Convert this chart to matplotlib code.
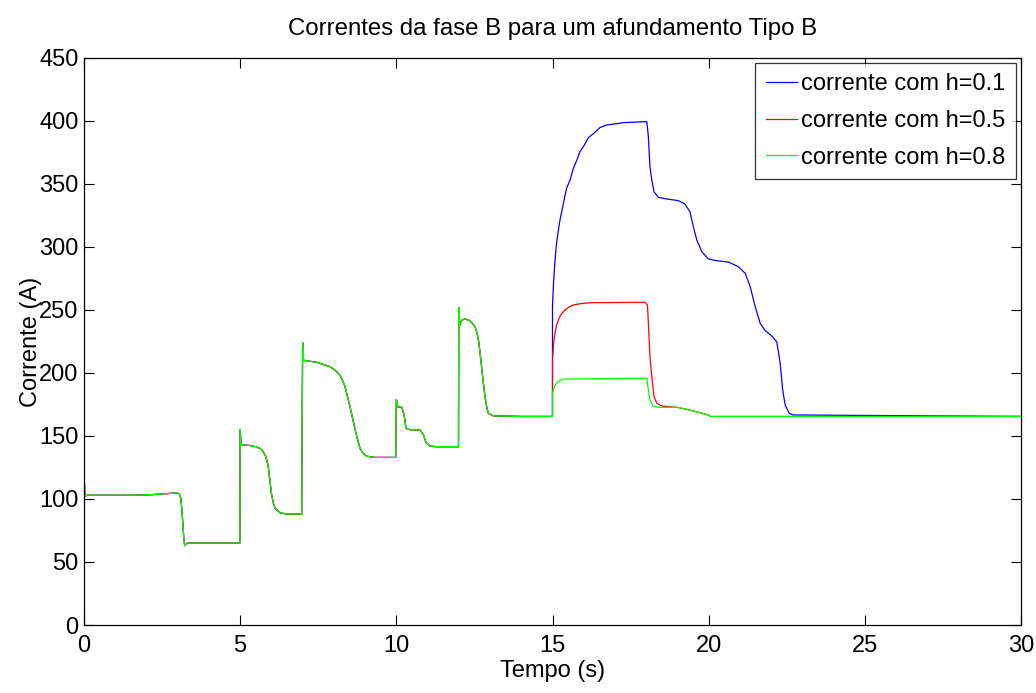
import numpy as np
import matplotlib
matplotlib.use("Agg")
import matplotlib.pyplot as plt

# Common trace (identical for all three cases before the sag at t = 15 s)
t_common = [0.0, 0.005, 0.03, 0.1, 0.5, 1.0, 1.5, 2.0, 2.2, 2.5, 2.8, 2.95, 3.05, 3.1,
            3.15, 3.2, 3.23, 3.3, 4.0, 4.99, 5.0, 5.03, 5.3, 5.5, 5.64, 5.72, 5.8, 5.85,
            5.9, 5.95, 6.0, 6.06, 6.12, 6.28, 6.5, 6.97, 7.0, 7.03, 7.1, 7.45, 7.88,
            8.05, 8.2, 8.28, 8.36, 8.44, 8.52, 8.6, 8.68, 8.76, 8.84, 8.93, 9.05, 9.3,
            9.98, 10.0, 10.05, 10.17, 10.25, 10.31, 10.44, 10.76, 10.87, 10.95, 11.08,
            11.3, 11.99, 12.0, 12.03, 12.1, 12.2, 12.36, 12.52, 12.58, 12.63, 12.68,
            12.73, 12.78, 12.84, 12.9, 12.95, 13.1, 14.0, 15.0]
i_common = [0.0, 117.0, 102.0, 103.0, 103.0, 103.0, 103.0, 103.2, 103.5, 104.0, 104.5,
            105.0, 104.0, 101.0, 86.0, 67.0, 63.0, 65.0, 65.0, 65.0, 155.0, 143.0,
            142.5, 141.5, 140.0, 138.0, 135.0, 131.0, 125.6, 115.0, 104.6, 97.0, 92.6,
            89.0, 88.0, 88.0, 224.0, 210.0, 209.8, 208.5, 205.0, 202.0, 198.0, 194.0,
            189.0, 181.0, 173.0, 164.0, 155.0, 147.0, 140.0, 136.5, 134.0, 133.0,
            133.0, 179.0, 173.0, 172.8, 166.7, 156.0, 155.0, 154.8, 150.8, 144.7,
            142.0, 141.5, 141.5, 252.0, 238.0, 242.0, 243.0, 241.5, 236.8, 232.0,
            226.0, 216.0, 205.0, 193.0, 181.0, 172.0, 168.0, 166.0, 165.5, 165.5]

# Sag period and recovery, per case
t_h01 = [15.0, 15.0, 15.03, 15.08, 15.13, 15.19, 15.24, 15.35, 15.45, 15.56, 15.67,
         15.78, 15.88, 15.99, 16.15, 16.31, 16.52, 16.73, 17.06, 17.27, 18.02, 18.07,
         18.12, 18.18, 18.25, 18.39, 18.66, 19.03, 19.24, 19.40, 19.51, 19.62, 19.78,
         19.99, 20.26, 20.63, 20.95, 21.17, 21.33, 21.49, 21.65, 21.81, 22.02, 22.18,
         22.29, 22.37, 22.45, 22.58, 22.71, 30.0]
i_h01 = [165.5, 252.6, 270.0, 289.7, 302.9, 313.5, 321.5, 334.7, 346.6, 353.0, 362.5,
         369.0, 375.7, 379.6, 386.8, 390.0, 394.8, 396.8, 397.9, 398.7, 399.5, 387.5,
         363.7, 353.2, 343.9, 339.4, 338.1, 336.8, 334.1, 328.0, 316.0, 305.6, 296.3,
         290.5, 289.1, 288.1, 284.4, 279.1, 268.5, 252.6, 239.4, 233.6, 229.4, 224.8,
         207.7, 186.5, 174.6, 168.0, 166.7, 165.5]

t_h05 = [15.0, 15.0, 15.03, 15.08, 15.13, 15.19, 15.26, 15.35, 15.5, 15.67, 15.9, 16.2,
         17.96, 18.04, 18.07, 18.12, 18.18, 18.25, 18.34, 18.5, 18.98, 19.4, 19.99,
         20.05, 30.0]
i_h05 = [165.5, 210.0, 222.0, 231.5, 238.0, 242.0, 246.0, 248.7, 252.0, 254.0, 255.0,
         255.8, 256.1, 254.0, 239.4, 213.0, 197.0, 181.2, 176.0, 173.8, 172.8, 170.6,
         166.7, 165.5, 165.5]

t_h08 = [15.0, 15.0, 15.03, 15.08, 15.13, 15.2, 15.35, 18.02, 18.07, 18.12, 18.21,
         18.39, 18.98, 19.4, 19.99, 20.05, 30.0]
i_h08 = [165.5, 183.9, 187.0, 190.0, 191.8, 193.5, 195.2, 195.8, 186.5, 178.6, 173.8,
         172.8, 172.8, 170.6, 166.7, 165.5, 165.5]

labels = ["corrente com h=0.1", "corrente com h=0.5", "corrente com h=0.8"]
colors = ["#0000ff", "#ff0000", "#00ff00"]

plt.rcParams['font.family'] = ['Liberation Sans', 'DejaVu Sans']

fig = plt.figure(figsize=(10.36, 6.93), dpi=100)
ax = fig.add_axes([84 / 1036, 1 - 625 / 693, (1021 - 84) / 1036, (625 - 58) / 693])

series = [(t_h01, i_h01), (t_h05, i_h05), (t_h08, i_h08)]
for (ts, vs), lab, col in zip(series, labels, colors):
    t = np.array(t_common + ts)
    v = np.array(i_common + vs)
    ax.plot(t, v, color=col, lw=0.9, label=lab)

ax.set_xlim(0, 30)
ax.set_ylim(0, 450)
ax.set_xticks(np.arange(0, 31, 5))
ax.set_yticks(np.arange(0, 451, 50))
ax.tick_params(direction='in', top=True, right=True, length=7, width=0.8,
               labelsize=17)
ax.tick_params(axis='x', pad=7.5)
ax.tick_params(axis='y', pad=4)
for s in ax.spines.values():
    s.set_linewidth(0.9)

ax.set_title("Correntes da fase B para um afundamento Tipo B", fontsize=17.3, pad=16.5)
ax.set_xlabel("Tempo (s)", fontsize=17, labelpad=2)
ax.set_ylabel("Corrente (A)", fontsize=17, labelpad=-2)

leg = ax.legend(loc='upper right', fontsize=17, frameon=True, fancybox=False,
                edgecolor='black', handlelength=1.3, handletextpad=0.2,
                borderpad=0.45, labelspacing=0.62, borderaxespad=0.2)
leg.get_frame().set_linewidth(0.9)

fig.savefig("out.png", dpi=100)
